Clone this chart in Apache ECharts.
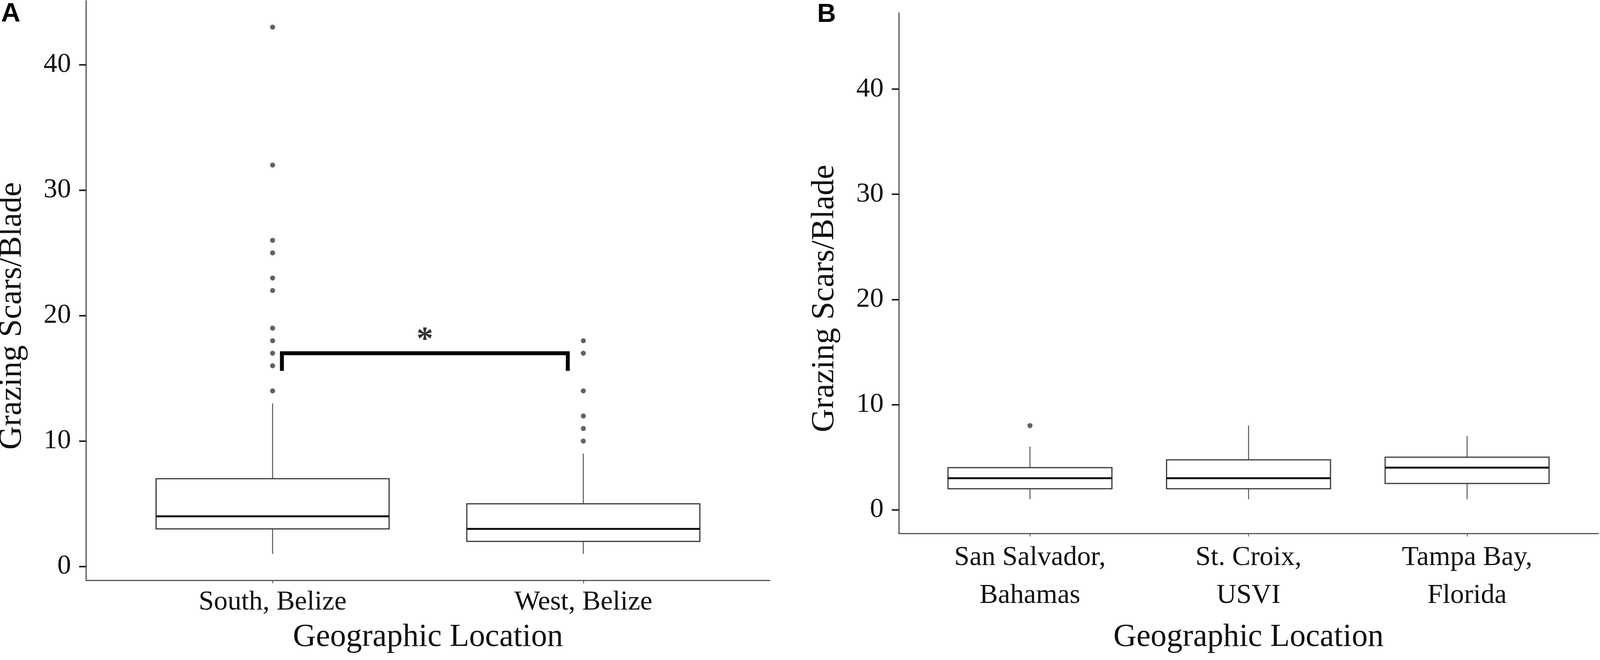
<!DOCTYPE html>
<html>
<head>
<meta charset="utf-8">
<script src="https://cdn.jsdelivr.net/npm/echarts@6/dist/echarts.min.js"></script>
<style>
html, body { margin: 0; padding: 0; background: #fff; overflow: hidden; }
#chart { width: 100vw; height: 100vh; }
</style>
</head>
<body>
<div id="chart"></div>
<script>
// ---------- data ----------
const catsA = ['South, Belize', 'West, Belize'];
// [min whisker, Q1, median, Q3, max whisker]
const boxSouth = [1, 3, 4, 7, 13];
const boxWest = [1, 2, 3, 5, 9];
const outSouth = [43, 32, 26, 25, 23, 22, 19, 18, 17, 16, 14];
const outWest = [18, 17, 14, 12, 11, 10];
const bracketX = [1.03, 1.03, 1.95, 1.95];
const bracketY = [15.6, 17, 17, 15.6];
const starXY = [1.49, 18];

const catsB = ['San Salvador,\nBahamas', 'St. Croix,\nUSVI', 'Tampa Bay,\nFlorida'];
const boxSanSalvador = [1, 2, 3, 4, 6];
const boxStCroix = [1, 2, 3, 4.75, 8];
const boxTampa = [1, 2.5, 4, 5, 7];
const outSanSalvador = [8];

const yTicks = [0, 10, 20, 30, 40];
const yTitle = 'Grazing Scars/Blade';
const xTitle = 'Geographic Location';

// ---------- layout scaling (designed on a 4550 x 1689 frame) ----------
const W = window.innerWidth || 4550, H = window.innerHeight || 1689;
const SX = W / 4550, SY = H / 1689;
const FS = (SX + SY) / 2;
const px = v => v * SX, py = v => v * SY, f = v => v * FS;

const SERIF = 'Liberation Serif';
const BOX_HALF = 0.375;

function boxRows(list) { return list.map((b, i) => [i + 1].concat(b)); }
function outRows(pos, vals) { return vals.map(v => [pos, v]); }

function renderBox(params, api) {
  const x = api.value(0);
  const lo = api.value(1), q1 = api.value(2), med = api.value(3), q3 = api.value(4), hi = api.value(5);
  const pHi = api.coord([x, hi]), pQ3 = api.coord([x, q3]), pQ1 = api.coord([x, q1]), pLo = api.coord([x, lo]);
  const tl = api.coord([x - BOX_HALF, q3]), br = api.coord([x + BOX_HALF, q1]);
  const mL = api.coord([x - BOX_HALF, med]), mR = api.coord([x + BOX_HALF, med]);
  const whisk = { stroke: '#555', lineWidth: 2.5 };
  return {
    type: 'group',
    children: [
      { type: 'line', shape: { x1: pHi[0], y1: pHi[1], x2: pQ3[0], y2: pQ3[1] }, style: whisk },
      { type: 'line', shape: { x1: pQ1[0], y1: pQ1[1], x2: pLo[0], y2: pLo[1] }, style: whisk },
      { type: 'rect', shape: { x: tl[0], y: tl[1], width: br[0] - tl[0], height: br[1] - tl[1] },
        style: { fill: '#fff', stroke: '#3a3a3a', lineWidth: 3 } },
      { type: 'line', shape: { x1: mL[0], y1: mL[1], x2: mR[0], y2: mR[1] }, style: { stroke: '#111', lineWidth: 5 } }
    ]
  };
}

function xAxisCfg(gridIndex, min, max, cats, nameGap, labelMargin, lineHeight) {
  const ticks = cats.map((c, i) => i + 1);
  return {
    type: 'value', gridIndex, min, max,
    axisLine: { show: true, onZero: false, lineStyle: { color: '#555', width: 3 } },
    axisTick: { show: true, customValues: ticks, length: py(8), lineStyle: { color: '#555', width: 2 } },
    axisLabel: {
      show: true, customValues: ticks, margin: py(labelMargin),
      formatter: v => cats[Math.round(v) - 1] || '',
      fontFamily: SERIF, fontSize: f(74), color: '#111', lineHeight: py(lineHeight)
    },
    splitLine: { show: false },
    name: xTitle, nameLocation: 'middle', nameGap: py(nameGap),
    nameTextStyle: { fontFamily: SERIF, fontSize: f(86), color: '#111' }
  };
}

function yAxisCfg(gridIndex, min, max) {
  return {
    type: 'value', gridIndex, min, max,
    axisLine: { show: true, onZero: false, lineStyle: { color: '#555', width: 3 } },
    axisTick: { show: true, customValues: yTicks, length: px(20), lineStyle: { color: '#222', width: 4 } },
    axisLabel: { show: true, customValues: yTicks, margin: px(43), fontFamily: SERIF, fontSize: f(74), color: '#111' },
    splitLine: { show: false },
    name: yTitle, nameLocation: 'middle', nameGap: px(168) - 3,
    nameTextStyle: { fontFamily: SERIF, fontSize: 83 * SY, color: '#111', padding: [0, py(130), 0, 0] }
  };
}

const dotStyle = { color: '#3c3c3c' };

const chart = echarts.init(document.getElementById('chart'), null, { renderer: 'canvas' });
chart.setOption({
  backgroundColor: '#fff',
  animation: false,
  title: [
    { text: 'A', left: px(3), top: py(2), padding: 0, textStyle: { fontFamily: 'Liberation Sans', fontWeight: 'bold', fontSize: f(72), color: '#000' } },
    { text: 'B', left: px(2324), top: py(4), padding: 0, textStyle: { fontFamily: 'Liberation Sans', fontWeight: 'bold', fontSize: f(70), color: '#000' } }
  ],
  grid: [
    { left: px(245), top: py(2), width: px(1944), height: py(1483), containLabel: false, outerBoundsMode: 'none' },
    { left: px(2556), top: py(33), width: px(1989), height: py(1332), containLabel: false, outerBoundsMode: 'none' }
  ],
  xAxis: [
    xAxisCfg(0, 0.4, 0.4 + 2.2, catsA, 106, 20, 74),
    xAxisCfg(1, 0.4, 0.4 + 3.2, catsB, 226, 14, 97)
  ],
  yAxis: [
    yAxisCfg(0, -1.1, 45.1),
    yAxisCfg(1, -2.25, 47.25)
  ],
  series: [
    {
      type: 'custom', xAxisIndex: 0, yAxisIndex: 0,
      data: boxRows([boxSouth, boxWest]),
      encode: { x: 0, y: [1, 2, 3, 4, 5] },
      renderItem: renderBox, silent: true
    },
    {
      type: 'scatter', xAxisIndex: 0, yAxisIndex: 0, symbolSize: 13,
      itemStyle: dotStyle,
      data: outRows(1, outSouth).concat(outRows(2, outWest)), silent: true
    },
    {
      type: 'line', xAxisIndex: 0, yAxisIndex: 0, symbol: 'none',
      lineStyle: { color: '#000', width: 10, cap: 'butt', join: 'miter' },
      data: bracketX.map((x, i) => [x, bracketY[i]]), silent: true
    },
    {
      type: 'scatter', xAxisIndex: 0, yAxisIndex: 0, symbolSize: 1,
      itemStyle: { color: 'rgba(0,0,0,0)' },
      label: { show: true, position: 'inside', formatter: '*', fontFamily: SERIF, fontWeight: 'bold', fontSize: f(90), color: '#000' },
      data: [starXY], silent: true
    },
    {
      type: 'custom', xAxisIndex: 1, yAxisIndex: 1,
      data: boxRows([boxSanSalvador, boxStCroix, boxTampa]),
      encode: { x: 0, y: [1, 2, 3, 4, 5] },
      renderItem: renderBox, silent: true
    },
    {
      type: 'scatter', xAxisIndex: 1, yAxisIndex: 1, symbolSize: 13,
      itemStyle: dotStyle,
      data: outRows(1, outSanSalvador), silent: true
    }
  ]
});
</script>
</body>
</html>
